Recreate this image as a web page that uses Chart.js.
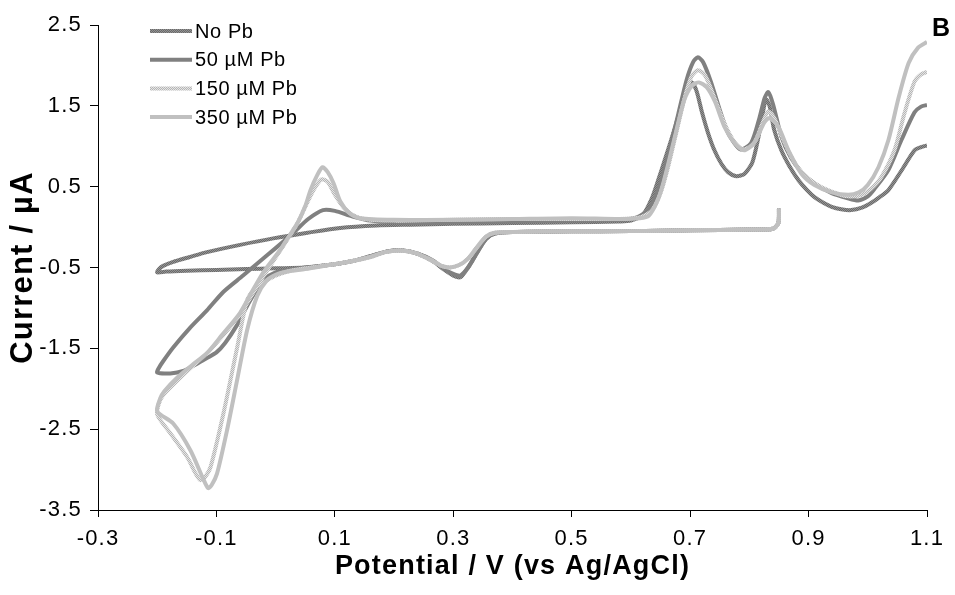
<!DOCTYPE html>
<html>
<head>
<meta charset="utf-8">
<script src="https://cdn.jsdelivr.net/npm/chart.js@4.4.1/dist/chart.umd.min.js"></script>
<style>
  html, body { margin: 0; padding: 0; background: #fff; }
  #cv { display: block; }
</style>
</head>
<body>
<canvas id="cv" width="955" height="595"></canvas>
<script>
// Potential (V) / current (µA) pairs in scan order
const noPbScan = [
  [0.85, 0.23], [0.849, 0.05], [0.84, -0.02], [0.8, -0.03], [0.7, -0.04], [0.6, -0.05], [0.5, -0.05], [0.4, -0.06],
  [0.37, -0.08], [0.355, -0.15], [0.34, -0.32], [0.325, -0.5], [0.312, -0.62], [0.3, -0.6], [0.285, -0.53], [0.265, -0.42],
  [0.24, -0.33], [0.215, -0.29], [0.19, -0.3], [0.16, -0.36], [0.13, -0.42], [0.1, -0.46], [0.05, -0.5], [0.0, -0.51],
  [-0.05, -0.52], [-0.1, -0.53], [-0.15, -0.54], [-0.185, -0.55], [-0.2, -0.56],
  [-0.197, -0.52], [-0.19, -0.48], [-0.173, -0.43], [-0.145, -0.37], [-0.116, -0.31], [-0.06, -0.22], [-0.004, -0.14],
  [0.054, -0.07], [0.109, -0.01], [0.17, 0.02], [0.228, 0.03], [0.3, 0.04], [0.4, 0.05], [0.5, 0.06], [0.58, 0.07],
  [0.6, 0.08], [0.62, 0.15], [0.635, 0.35], [0.646, 0.58], [0.658, 0.85], [0.668, 1.08], [0.685, 1.49], [0.695, 1.72],
  [0.703, 1.79], [0.711, 1.68], [0.72, 1.42], [0.73, 1.17], [0.741, 0.95], [0.753, 0.78], [0.764, 0.68], [0.778, 0.63],
  [0.792, 0.66], [0.805, 0.8], [0.815, 1.1], [0.822, 1.38], [0.828, 1.58], [0.834, 1.5], [0.842, 1.2], [0.854, 0.95],
  [0.868, 0.75], [0.883, 0.58], [0.897, 0.46], [0.91, 0.37], [0.925, 0.3], [0.939, 0.25], [0.955, 0.22], [0.972, 0.21],
  [0.99, 0.24], [1.006, 0.3], [1.02, 0.37], [1.035, 0.46], [1.057, 0.7], [1.079, 0.95], [1.09, 0.99], [1.1, 1.01]
];

const pb50Scan = [
  [0.85, 0.23], [0.849, 0.05], [0.84, -0.02], [0.8, -0.03], [0.7, -0.04], [0.6, -0.05], [0.5, -0.05], [0.4, -0.06],
  [0.37, -0.08], [0.355, -0.15], [0.34, -0.32], [0.325, -0.5], [0.312, -0.6], [0.3, -0.58], [0.285, -0.52], [0.265, -0.41],
  [0.24, -0.33], [0.215, -0.29], [0.19, -0.3], [0.16, -0.36], [0.13, -0.42], [0.1, -0.46], [0.05, -0.5], [0.02, -0.53],
  [0.0, -0.56], [-0.018, -0.64], [-0.034, -0.8], [-0.05, -1.0], [-0.065, -1.21], [-0.085, -1.43], [-0.1, -1.55],
  [-0.116, -1.62], [-0.135, -1.7], [-0.156, -1.78], [-0.178, -1.81], [-0.2, -1.8],
  [-0.197, -1.74], [-0.19, -1.66], [-0.173, -1.49], [-0.145, -1.25], [-0.116, -1.03], [-0.088, -0.8], [-0.055, -0.6],
  [-0.026, -0.42], [0.0, -0.26], [0.03, -0.07], [0.055, 0.1], [0.08, 0.21], [0.1, 0.2], [0.13, 0.13], [0.16, 0.08],
  [0.23, 0.05], [0.3, 0.06], [0.4, 0.07], [0.5, 0.08], [0.58, 0.09], [0.61, 0.12], [0.63, 0.22], [0.648, 0.5],
  [0.664, 0.92], [0.68, 1.4], [0.694, 1.82], [0.705, 2.04], [0.713, 2.1], [0.722, 2.04], [0.735, 1.8], [0.75, 1.45],
  [0.765, 1.15], [0.785, 0.96], [0.803, 1.04], [0.817, 1.35], [0.826, 1.6], [0.832, 1.67], [0.84, 1.52], [0.854, 1.12],
  [0.87, 0.86], [0.888, 0.68], [0.91, 0.54], [0.939, 0.42], [0.965, 0.36], [0.984, 0.33], [1.0, 0.38], [1.011, 0.47],
  [1.035, 0.71], [1.057, 1.08], [1.079, 1.42], [1.09, 1.49], [1.1, 1.51]
];

const pb150Scan = [
  [0.85, 0.23], [0.849, 0.05], [0.84, -0.02], [0.8, -0.03], [0.7, -0.04], [0.6, -0.05], [0.5, -0.05], [0.4, -0.06],
  [0.37, -0.07], [0.355, -0.12], [0.34, -0.25], [0.325, -0.39], [0.31, -0.47], [0.295, -0.5], [0.28, -0.48], [0.26, -0.4],
  [0.235, -0.32], [0.21, -0.29], [0.185, -0.31], [0.16, -0.37], [0.13, -0.42], [0.09, -0.47], [0.05, -0.51], [0.02, -0.55],
  [0.0, -0.6], [-0.015, -0.66], [-0.032, -0.74], [-0.048, -0.9], [-0.065, -1.49], [-0.088, -2.3], [-0.11, -2.97],
  [-0.12, -3.1], [-0.127, -3.13], [-0.135, -3.05], [-0.149, -2.85], [-0.178, -2.55], [-0.2, -2.32],
  [-0.197, -2.18], [-0.19, -2.08], [-0.166, -1.9], [-0.14, -1.72], [-0.116, -1.56], [-0.09, -1.35], [-0.06, -1.08],
  [-0.04, -0.84], [-0.02, -0.6], [0.005, -0.32], [0.02, -0.15], [0.037, 0.05], [0.05, 0.25], [0.065, 0.47], [0.077, 0.59],
  [0.088, 0.56], [0.1, 0.4], [0.115, 0.24], [0.13, 0.15], [0.15, 0.1], [0.2, 0.08], [0.3, 0.09], [0.4, 0.1], [0.5, 0.1],
  [0.58, 0.1], [0.615, 0.12], [0.635, 0.2], [0.65, 0.42], [0.663, 0.75], [0.676, 1.15], [0.69, 1.58], [0.702, 1.86],
  [0.713, 1.94], [0.725, 1.88], [0.74, 1.62], [0.758, 1.28], [0.775, 1.05], [0.79, 0.96], [0.808, 1.04], [0.823, 1.3],
  [0.832, 1.43], [0.842, 1.35], [0.855, 1.12], [0.87, 0.88], [0.888, 0.68], [0.91, 0.54], [0.939, 0.44], [0.967, 0.38],
  [0.99, 0.4], [1.005, 0.47], [1.023, 0.62], [1.045, 0.95], [1.062, 1.41], [1.079, 1.8], [1.09, 1.89], [1.1, 1.92]
];

const pb350Scan = [
  [0.85, 0.23], [0.849, 0.05], [0.84, -0.02], [0.8, -0.03], [0.7, -0.04], [0.6, -0.05], [0.5, -0.05], [0.4, -0.06],
  [0.37, -0.07], [0.355, -0.12], [0.34, -0.25], [0.325, -0.39], [0.31, -0.47], [0.295, -0.5], [0.28, -0.48], [0.26, -0.4],
  [0.235, -0.32], [0.21, -0.29], [0.185, -0.31], [0.16, -0.37], [0.13, -0.42], [0.09, -0.47], [0.05, -0.52], [0.02, -0.55],
  [0.0, -0.59], [-0.015, -0.66], [-0.031, -0.85], [-0.048, -1.27], [-0.065, -1.89], [-0.082, -2.51], [-0.099, -3.05],
  [-0.108, -3.19], [-0.114, -3.23], [-0.122, -3.12], [-0.144, -2.76], [-0.173, -2.43], [-0.2, -2.28],
  [-0.195, -2.12], [-0.188, -2.03], [-0.166, -1.86], [-0.14, -1.7], [-0.116, -1.56], [-0.09, -1.33], [-0.06, -1.06],
  [-0.04, -0.8], [-0.02, -0.55], [0.008, -0.28], [0.022, -0.12], [0.037, 0.05], [0.05, 0.26], [0.059, 0.46], [0.07, 0.64],
  [0.079, 0.74], [0.088, 0.68], [0.098, 0.54], [0.109, 0.32], [0.125, 0.17], [0.143, 0.11], [0.2, 0.09], [0.3, 0.09],
  [0.4, 0.1], [0.5, 0.11], [0.58, 0.1], [0.615, 0.11], [0.63, 0.14], [0.645, 0.33], [0.656, 0.58], [0.673, 1.08],
  [0.69, 1.57], [0.703, 1.75], [0.715, 1.79], [0.728, 1.73], [0.742, 1.55], [0.758, 1.24], [0.775, 1.04], [0.791, 0.95],
  [0.808, 1.04], [0.825, 1.29], [0.834, 1.35], [0.849, 1.24], [0.866, 0.95], [0.888, 0.66], [0.91, 0.52], [0.939, 0.43],
  [0.967, 0.4], [0.985, 0.43], [1.0, 0.52], [1.018, 0.74], [1.035, 1.08], [1.052, 1.6], [1.069, 2.03], [1.085, 2.22],
  [1.1, 2.29]
];

const seriesLabels = ['No Pb', '50 µM Pb', '150 µM Pb', '350 µM Pb'];
const xTickValues = [-0.3, -0.1, 0.1, 0.3, 0.5, 0.7, 0.9, 1.1];
const yTickValues = [-3.5, -2.5, -1.5, -0.5, 0.5, 1.5, 2.5];
const xTitle = 'Potential / V (vs Ag/AgCl)';
const yTitle = 'Current / µA';
const panelLetter = 'B';

const FONT = '"Liberation Sans", Arial, sans-serif';

// Excel style speckled line fill
function speckle(c1, c2) {
  const p = document.createElement('canvas');
  p.width = 2; p.height = 2;
  const g = p.getContext('2d');
  g.fillStyle = c1; g.fillRect(0, 0, 2, 2);
  g.fillStyle = c2; g.fillRect(0, 0, 1, 1); g.fillRect(1, 1, 1, 1);
  return g.createPattern(p, 'repeat');
}

const toPoints = (scan) => scan.map(([v, i]) => ({ x: v, y: i }));

const lineColors = [
  speckle('#6a6a6a', '#939393'),
  '#808080',
  speckle('#b6b6b6', '#e4e4e4'),
  '#c0c0c0'
];
const scans = [noPbScan, pb50Scan, pb150Scan, pb350Scan];

const insideLegend = {
  id: 'insideLegend',
  beforeDraw(chart) {
    chart.ctx.letterSpacing = '1.2px';
  },
  afterDraw(chart) {
    const ctx = chart.ctx;
    ctx.save();
    ctx.letterSpacing = '0.6px';
    ctx.font = '20px ' + FONT;
    ctx.textBaseline = 'middle';
    ctx.textAlign = 'left';
    ctx.fillStyle = '#000';
    chart.data.datasets.forEach((ds, i) => {
      const y = 31 + i * 28.7;
      ctx.strokeStyle = ds.borderColor;
      ctx.lineWidth = 4;
      ctx.beginPath();
      ctx.moveTo(150, y);
      ctx.lineTo(192, y);
      ctx.stroke();
      ctx.fillText(ds.label, 195, y + 1);
    });
    ctx.letterSpacing = '0px';
    ctx.font = 'bold 25px ' + FONT;
    ctx.textBaseline = 'alphabetic';
    ctx.fillText(panelLetter, 932, 36);
    ctx.restore();
  }
};

new Chart(document.getElementById('cv'), {
  type: 'scatter',
  data: {
    datasets: scans.map((scan, k) => ({
      label: seriesLabels[k],
      data: toPoints(scan),
      showLine: true,
      borderColor: lineColors[k],
      backgroundColor: lineColors[k],
      borderWidth: 4,
      pointRadius: 0,
      pointHoverRadius: 0,
      tension: 0.25,
      order: 4 - k
    }))
  },
  options: {
    responsive: false,
    animation: false,
    devicePixelRatio: 1,
    layout: { padding: { left: 0, top: 25, right: 28, bottom: 0 } },
    plugins: {
      legend: { display: false },
      tooltip: { enabled: false }
    },
    scales: {
      x: {
        type: 'linear',
        min: -0.3,
        max: 1.1,
        afterBuildTicks: (s) => { s.ticks = xTickValues.map(v => ({ value: v })); },
        afterFit: (s) => { s.height = 85; },
        grid: { drawOnChartArea: false, drawTicks: true, tickLength: 7, color: '#000' },
        border: { display: true, color: '#000', width: 1 },
        ticks: {
          autoSkip: false, maxRotation: 0, padding: 9, color: '#000',
          font: { family: FONT, size: 22 },
          callback: (v) => Number(v).toFixed(1)
        },
        title: {
          display: true, text: xTitle, color: '#000',
          font: { family: FONT, size: 27, weight: 'bold' },
          padding: { top: 0, bottom: 12 }
        }
      },
      y: {
        type: 'linear',
        min: -3.5,
        max: 2.5,
        afterBuildTicks: (s) => { s.ticks = yTickValues.map(v => ({ value: v })); },
        afterFit: (s) => { s.width = 98; },
        grid: { drawOnChartArea: false, drawTicks: true, tickLength: 8, color: '#000' },
        border: { display: true, color: '#000', width: 1 },
        ticks: {
          padding: 8, color: '#000',
          font: { family: FONT, size: 22 },
          callback: (v) => Number(v).toFixed(1)
        },
        title: {
          display: true, text: yTitle, color: '#000',
          font: { family: FONT, size: 31, weight: 'bold' },
          padding: { top: 5, bottom: 0 }
        }
      }
    }
  },
  plugins: [insideLegend]
});
</script>
</body>
</html>
